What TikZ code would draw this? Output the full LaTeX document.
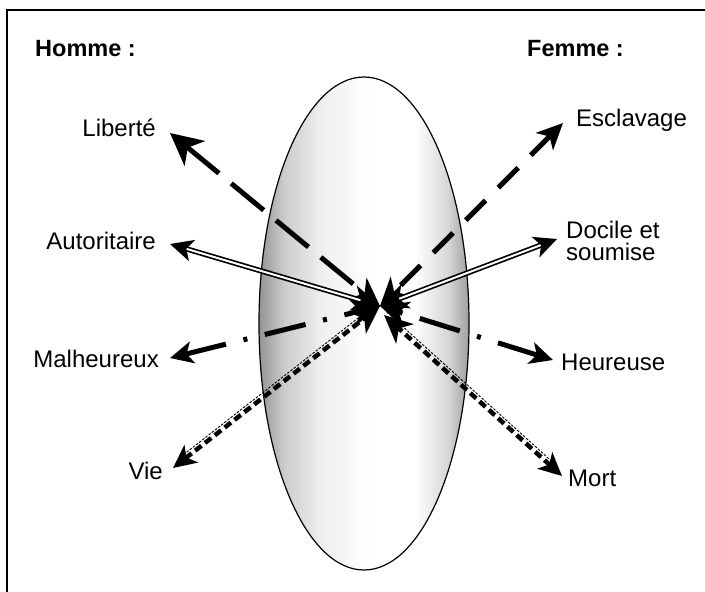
\documentclass[tikz,border=0pt]{standalone}
\usepackage{fontspec}
\setmainfont{Liberation Sans}
\usetikzlibrary{arrows.meta,calc}
\pgfdeclarehorizontalshading{ellshade}{100bp}{color(0bp)=(black!42); color(25bp)=(black!42); color(31bp)=(black!20); color(40bp)=(black!6); color(52bp)=(white); color(62bp)=(white); color(70bp)=(black!16); color(75bp)=(black!38); color(100bp)=(black!38)}
\begin{document}
\begin{tikzpicture}[x=1pt,y=-1pt,
  lbl/.style={inner sep=0pt, font=\fontsize{24}{22}\selectfont},
  hdr/.style={inner sep=0pt, font=\fontsize{23.5}{22}\selectfont\bfseries},
  tipS/.tip={Stealth[length=23pt,width=22pt,inset=6pt]},
  tipM/.tip={Stealth[length=26pt,width=24pt,inset=7pt]},
  tipL/.tip={Stealth[length=32pt,width=32pt,inset=9pt]},
  tipC/.tip={Stealth[length=28pt,width=26pt,inset=8pt]},
  longdash/.style={line width=5pt, dash pattern=on 42pt off 16pt, {tipL}-{tipC}},
  meddash/.style={line width=5pt, dash pattern=on 28pt off 18pt, {tipM}-{tipC}},
  dblline/.style={double, double distance=2pt, line width=1.7pt, {tipS}-{tipC}},
  dashdot/.style={line width=5pt, dash pattern=on 42pt off 18pt on 4pt off 18pt, {tipS}-{tipC}},
  shortdash/.style={line width=4.5pt, dash pattern=on 8pt off 4.5pt, {tipS}-{tipC}},
  thindash/.style={line width=0.9pt, dash pattern=on 2.5pt off 1.5pt},
  frame/.style={line width=2pt}
]
\useasboundingbox (0,0) rectangle (705,592);
% frame
\draw[frame] (705,10) -- (7,10) -- (7,592);
% ellipse
\shade[shading=ellshade, draw=black, line width=1.2pt] (364,323.5) ellipse [x radius=105, y radius=246.5];
% headers
\node[hdr, anchor=base west] (homme) at (35,56) {Homme :};
\node[hdr, anchor=base west] (femme) at (527,56) {Femme :};
% labels
\node[lbl, anchor=base east] (lib) at (156,136) {Libert\'e};
\node[lbl, anchor=base east] (aut) at (156,249) {Autoritaire};
\node[lbl, anchor=base east] (mal) at (159,367) {Malheureux};
\node[lbl, anchor=base east] (vie) at (163,479) {Vie};
\node[lbl, anchor=base west] (esc) at (576,126) {Esclavage};
\node[lbl, anchor=west, align=left] (doc) at (566,240.5) {Docile et\\soumise};
\node[lbl, anchor=base west] (heu) at (561,370) {Heureuse};
\node[lbl, anchor=base west] (mort) at (568,486) {Mort};
% points
\coordinate (C) at (380,306);
\coordinate (C2) at (384,315);
\coordinate (tLib) at (170,133);
\coordinate (tAut) at (170,244);
\coordinate (tMal) at (170,358);
\coordinate (tVie) at (173,468);
\coordinate (tEsc) at (563,123);
\coordinate (tDoc) at (557,239);
\coordinate (tHeu) at (553,360);
\coordinate (tMort) at (562,476);
% connectors
\draw[thindash, shorten >=16pt] ($(C)!4pt!-90:(tVie)$) -- ($(tVie)!4pt!90:(C)$);
\draw[thindash, shorten >=16pt] ($(C2)!4pt!90:(tMort)$) -- ($(tMort)!4pt!-90:(C2)$);
\draw[longdash] (tLib) -- (C);
\draw[meddash] (tEsc) -- (C);
\draw[dblline] (tAut) -- (C);
\draw[dblline] (tDoc) -- (C);
\draw[dashdot] (tMal) -- (C);
\draw[dashdot] (tHeu) -- (C);
\draw[shortdash] (tVie) -- (C);
\draw[shortdash] (tMort) -- (C2);
\end{tikzpicture}
\end{document}
